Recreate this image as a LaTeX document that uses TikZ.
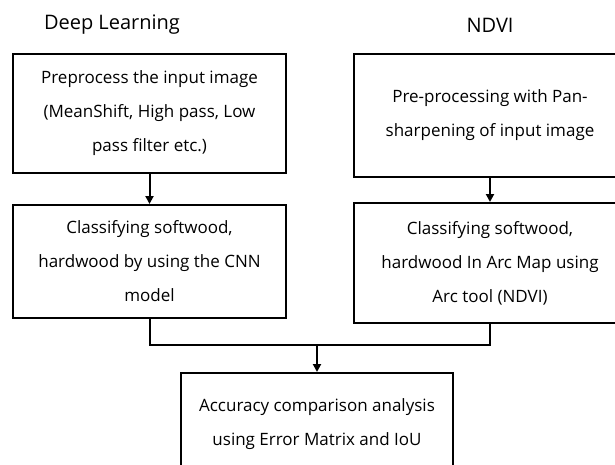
\documentclass[tikz,border=0pt]{standalone}
\usepackage{fontspec}
\setmainfont{Open Sans}
\usepackage{tikz}
\usetikzlibrary{arrows.meta,positioning}

\tikzset{
	stepbox/.style={draw=black, line width=2pt, fill=none, align=center,
		font=\fontsize{17}{34}\selectfont, inner sep=0pt},
	head/.style={fill=none, draw=none, font=\fontsize{20}{24}\selectfont},
	link/.style={draw=black, line width=2pt, -{Triangle[width=8pt,length=8pt]}}
}

\begin{document}
\begin{tikzpicture}[x=1pt, y=-1pt]
	\clip (0,0) rectangle (615,465);
	\node [head] (H1) at (112,25) {Deep Learning};
	\node [head] (H2) at (490,25) {NDVI};
	\node [stepbox, minimum width=273pt, minimum height=119pt] (A) at (149.5,113.5) {Preprocess the input image\\(MeanShift, High pass, Low\\pass filter etc.)};
	\node [stepbox, minimum width=272pt, minimum height=123pt] (B) at (490,115.5) {Pre-processing with Pan-\\sharpening of input image};
	\node [stepbox, minimum width=273pt, minimum height=113pt] (C) at (149.5,261.5) {Classifying softwood,\\hardwood by using the CNN\\model};
	\node [stepbox, minimum width=272pt, minimum height=120pt] (D) at (490,263) {Classifying softwood,\\hardwood In Arc Map using\\Arc tool (NDVI)};
	\node [stepbox, minimum width=272pt, minimum height=102pt] (E) at (317,424) {Accuracy comparison analysis\\using Error Matrix and IoU};
	\coordinate (J) at (317,345);
	\path (A) edge [link] (C);
	\path (B) edge [link] (D);
	\draw [line width=2pt] (C.south) |- (J) -| (D.south);
	\path (J) edge [link] (E);
\end{tikzpicture}
\end{document}
